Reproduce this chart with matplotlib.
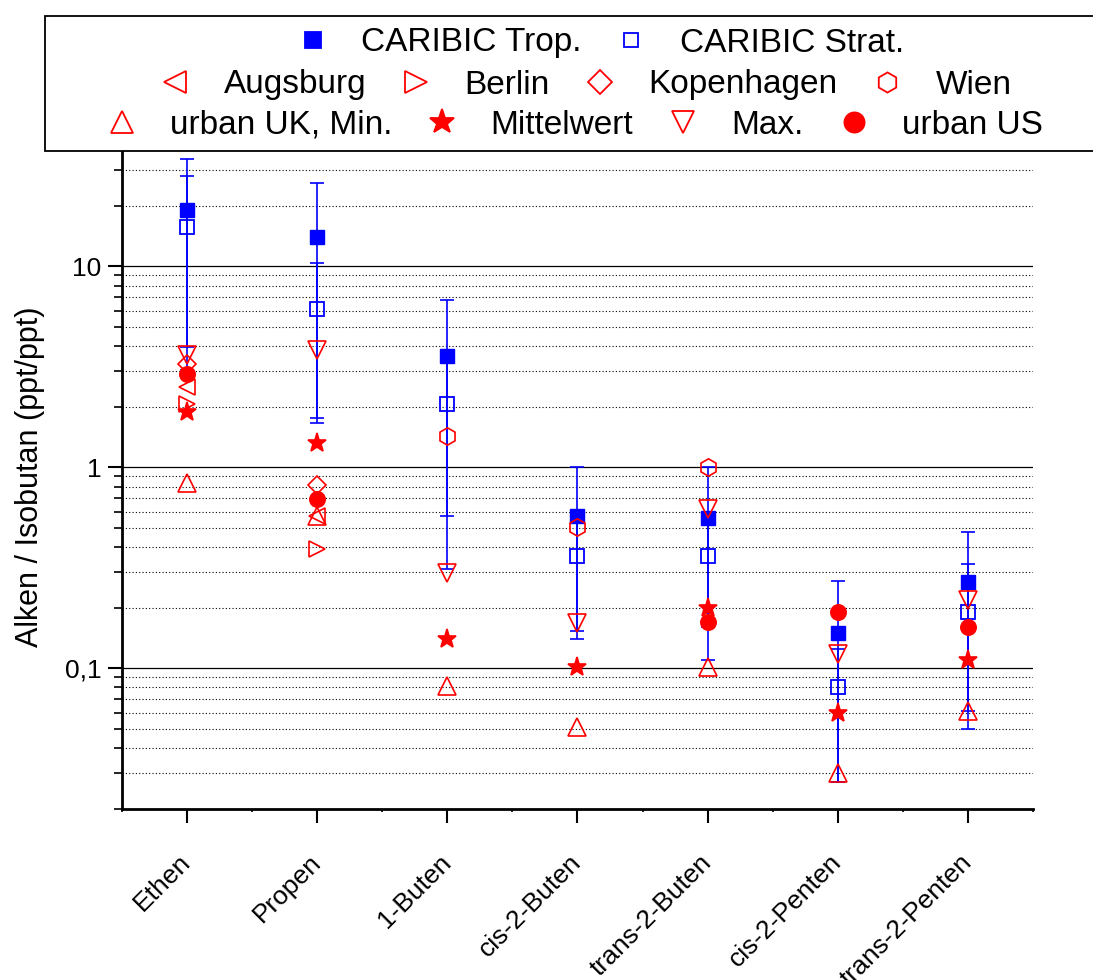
import matplotlib
matplotlib.use('Agg')
import matplotlib.pyplot as plt
import matplotlib.ticker as mticker
from matplotlib.lines import Line2D
from matplotlib.patches import Rectangle
import numpy as np

plt.rcParams['font.family'] = ['Liberation Sans', 'DejaVu Sans']

nan = np.nan

# Categories (alkenes)
categories = ['Ethen', 'Propen', '1-Buten', 'cis-2-Buten', 'trans-2-Buten',
              'cis-2-Penten', 'trans-2-Penten']

# CARIBIC means with error bar bounds
trop = [19.1, 13.9, 3.57, 0.57, 0.555, 0.149, 0.269]
trop_lo = [3.97, 1.76, 0.31, 0.14, 0.11, 0.027, 0.061]
trop_hi = [33.9, 26.0, 6.8, 1.0, 1.0, 0.271, 0.477]

strat = [15.6, 6.13, 2.07, 0.36, 0.36, 0.080, 0.19]
strat_lo = [3.04, 1.66, 0.57, 0.152, 0.16, 0.027, 0.05]
strat_hi = [28.0, 10.4, 3.57, 0.57, 0.56, 0.125, 0.329]

# Urban reference values
augsburg = [2.49, 0.57, nan, nan, nan, nan, nan]
berlin = [2.07, 0.39, nan, nan, nan, nan, nan]
kopenhagen = [3.25, 0.81, nan, nan, nan, nan, nan]
wien = [nan, nan, 1.42, 0.505, 1.0, nan, nan]
uk_min = [0.83, 0.57, 0.081, 0.051, 0.101, 0.030, 0.061]
uk_mean = [1.88, 1.32, 0.14, 0.101, 0.198, 0.060, 0.109]
uk_max = [3.61, 3.82, 0.296, 0.167, 0.62, 0.118, 0.218]
urban_us = [2.89, 0.69, nan, nan, 0.17, 0.19, 0.16]

BLUE = '#0000FF'
RED = '#FF0000'

fig = plt.figure(figsize=(10.93, 9.8), dpi=100)
ax = fig.add_axes([0.1116, 0.175, 0.8335, 0.677])

x = np.arange(1, len(categories) + 1)

# Error bars
for mean, lo, hi in [(trop, trop_lo, trop_hi), (strat, strat_lo, strat_hi)]:
    m = np.array(mean)
    yerr = [m - np.array(lo), np.array(hi) - m]
    ax.errorbar(x, m, yerr=yerr, fmt='none', ecolor=BLUE, elinewidth=1.2,
                capsize=5, capthick=1.2, zorder=3)

# CARIBIC markers
ax.plot(x, trop, 's', color=BLUE, ms=9.5, mec=BLUE, zorder=4)
ax.plot(x, strat, 's', mfc='none', mec=BLUE, ms=9.5, mew=1.3, zorder=4)

# Red markers: (values, marker, size in plot, face, size in legend, label)
red_series = [
    (augsburg, '<', 12, 'none', 16, 'Augsburg'),
    (berlin, '>', 12, 'none', 16, 'Berlin'),
    (kopenhagen, 'D', 9, 'none', 12, 'Kopenhagen'),
    (wien, 'h', 12.5, 'none', 14.5, 'Wien'),
    (uk_min, '^', 13, 'none', 16.5, 'urban UK, Min.'),
    (uk_mean, '*', 14, RED, 18.5, 'Mittelwert'),
    (uk_max, 'v', 13, 'none', 16, 'Max.'),
    (urban_us, 'o', 11, RED, 14.5, 'urban US'),
]
for vals, mk, ms, fc, _, _ in red_series:
    ax.plot(x, vals, mk, mfc=fc, mec=RED, ms=ms, mew=1.2, zorder=5)

# Axes formatting
ax.set_yscale('log')
ax.set_ylim(0.02, 40)
ax.set_xlim(0.5, 7.5)

ax.yaxis.set_major_locator(mticker.FixedLocator([0.1, 1, 10]))
ax.yaxis.set_major_formatter(mticker.FixedFormatter(['0,1', '1', '10']))
ax.yaxis.set_minor_locator(mticker.LogLocator(base=10, subs=np.arange(2, 10)))
ax.yaxis.set_minor_formatter(mticker.NullFormatter())

ax.set_xticks(x)
ax.set_xticklabels(categories, rotation=45, ha='right', va='center',
                   rotation_mode='anchor', fontsize=19)
ax.xaxis.set_minor_locator(mticker.FixedLocator(np.arange(0.5, 8, 1.0)))

ax.tick_params(axis='y', which='major', length=10, width=1.5, labelsize=19, pad=5)
ax.tick_params(axis='y', which='minor', length=6, width=1.2)
ax.tick_params(axis='x', which='major', length=10, width=1.5, pad=26)
ax.tick_params(axis='x', which='minor', length=2, width=1.2)

ax.grid(True, which='major', axis='y', color='black', linestyle='-', linewidth=0.9)
ax.grid(True, which='minor', axis='y', color='black', linestyle=(0, (1, 2)),
        linewidth=0.8)
ax.set_axisbelow(True)

for side in ['top', 'right']:
    ax.spines[side].set_visible(False)
for side in ['left', 'bottom']:
    ax.spines[side].set_linewidth(2)

ax.set_ylabel('Alken / Isobutan (ppt/ppt)', fontsize=22, labelpad=14)

# Legend box with three rows
fig.patches.append(Rectangle((45 / 1093, 1 - 151 / 980), 1.0, (151 - 16) / 980,
                             transform=fig.transFigure, facecolor='white',
                             edgecolor='black', linewidth=1.3, zorder=1))


def handle(mk, fc, ec, ms):
    return Line2D([], [], linestyle='none', marker=mk, mfc=fc, mec=ec,
                  ms=ms, mew=1.3)


red_handles = [handle(s[1], s[3], RED, s[4]) for s in red_series]
red_labels = [s[5] for s in red_series]

rows = [
    ([handle('s', BLUE, BLUE, 12), handle('s', 'none', BLUE, 9.5)],
     ['CARIBIC Trop.', 'CARIBIC Strat.'], 600, 43),
    (red_handles[:4], red_labels[:4], 585, 85),
    (red_handles[4:], red_labels[4:], 574, 125),
]
for hs, labels, cx, cy in rows:
    leg = fig.legend(handles=hs, labels=labels, loc='center',
                     bbox_to_anchor=(cx / 1093, 1 - cy / 980), ncol=len(hs),
                     frameon=False, fontsize=24, handlelength=1.0,
                     handletextpad=0.95, columnspacing=1.0, borderpad=0,
                     borderaxespad=0)
    leg.set_zorder(6)

fig.savefig('out.png', dpi=100)
